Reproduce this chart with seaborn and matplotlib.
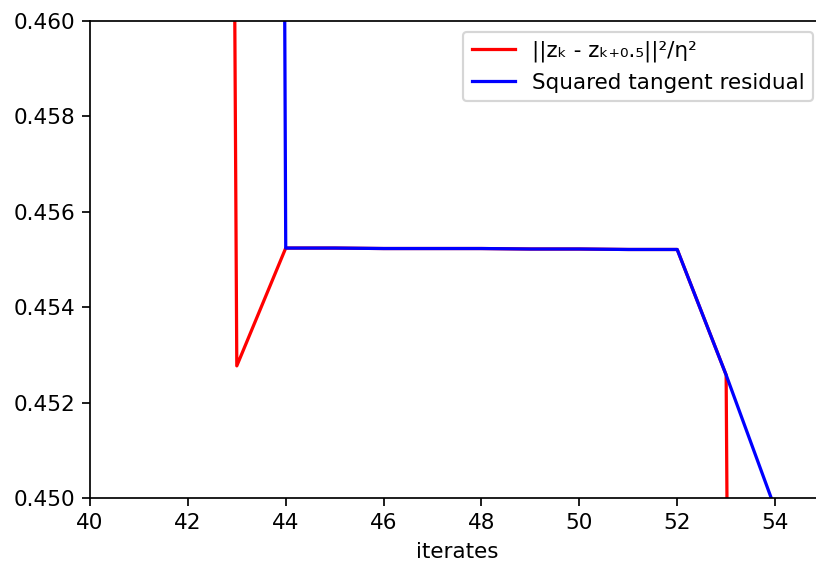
import numpy as np
import pandas as pd
import matplotlib
matplotlib.use("Agg")
import matplotlib.pyplot as plt
import seaborn as sns

# iterates and the two residual series
iterates = [40, 41, 42, 43, 44, 45, 46, 47, 48, 49, 50, 51, 52, 53, 54, 55]
diff_norm = [0.80, 0.72, 0.63, 0.45277, 0.45524, 0.45524, 0.45523, 0.45523, 0.45523,
             0.45522, 0.45522, 0.45521, 0.45521, 0.45258, 0.30, 0.25]
tangent_res = [0.90, 0.80, 0.70, 0.69, 0.45524, 0.45524, 0.45523, 0.45523, 0.45523,
               0.45522, 0.45522, 0.45521, 0.45521, 0.45258, 0.44978, 0.4470]

label_red = "||zₖ - zₖ₊₀.₅||²/η²"
label_blue = "Squared tangent residual"

df = pd.DataFrame({"iterates": iterates, "red": diff_norm, "blue": tangent_res})

plt.rcParams["font.family"] = ["DejaVu Sans"]

DPI = 155
fig = plt.figure(figsize=(817 / DPI, 569 / DPI), dpi=DPI)
# axes run slightly past the right edge, as in the cropped reference
ax = fig.add_axes([90 / 817, 71 / 569, 734 / 817, 477 / 569])

sns.lineplot(data=df, x="iterates", y="red", color="red", label=label_red, ax=ax)
sns.lineplot(data=df, x="iterates", y="blue", color="blue", label=label_blue, ax=ax)

ax.set_xlim(40, 55)
ax.set_ylim(0.450, 0.460)
ax.set_xticks([40, 42, 44, 46, 48, 50, 52, 54])
ax.set_yticks([0.450, 0.452, 0.454, 0.456, 0.458, 0.460])
ax.set_yticklabels(["0.450", "0.452", "0.454", "0.456", "0.458", "0.460"])
ax.set_xlabel("iterates")
ax.set_ylabel("")
ax.legend(loc="upper right")

fig.savefig("out.png", dpi=DPI)
